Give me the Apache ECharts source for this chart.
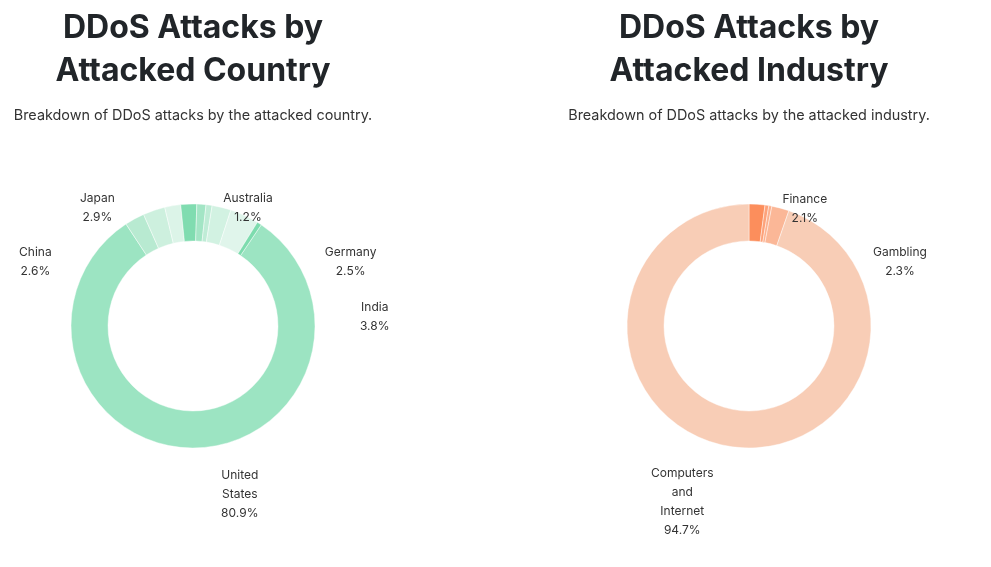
<!DOCTYPE html>
<html>
<head>
<meta charset="utf-8">
<script src="https://cdn.jsdelivr.net/npm/echarts@6/dist/echarts.min.js"></script>
<style>
  html, body { margin: 0; padding: 0; background: #ffffff; }
  #chart { width: 991px; height: 567px; }
</style>
</head>
<body>
<div id="chart"></div>
<script>
// ---- data ----
const countryTitle = 'DDoS Attacks by\nAttacked Country';
const countrySubtitle = 'Breakdown of DDoS attacks by the attacked country.';
const countryNames = ['United States', 'China', 'Japan', 'Other 1', 'Other 2', 'Australia', 'Other 3', 'Germany', 'India', 'Other 4'];
const countryValues = [80.9, 2.6, 2.9, 2.1, 2.1, 1.2, 0.8, 2.5, 3.8, 0.6];
const countryLabelled = ['United States', 'China', 'Japan', 'Australia', 'Germany', 'India'];

const industryTitle = 'DDoS Attacks by\nAttacked Industry';
const industrySubtitle = 'Breakdown of DDoS attacks by the attacked industry.';
const industryNames = ['Finance', 'Other 1', 'Other 2', 'Gambling', 'Computers and Internet'];
const industryValues = [2.1, 0.5, 0.4, 2.3, 94.7];
const industryLabelled = ['Finance', 'Gambling', 'Computers and Internet'];

// ---- styles ----
const countryColors = ['#9ce4c2', '#b8ead1', '#cdf0de', '#dcf4e8', '#80dcb0', '#a3e5c5', '#bfecd6', '#d2f2e2', '#e0f5eb', '#7ddcae'];
const industryColors = ['#fc8e5c', '#fda27a', '#fcb08e', '#fbb797', '#f8cdb6'];
// label placement: [angle clockwise from top (deg), distance from centre (px)]
const countryLabelPlace = {
  'United States': [164.5, 175], 'China': [-68, 170], 'Japan': [-39, 152],
  'Australia': [25, 130], 'Germany': [68, 170], 'India': [87, 182]
};
const industryLabelPlace = {
  'Finance': [25.4, 130], 'Gambling': [67, 164], 'Computers and Internet': [200.8, 188]
};
const FONT = 'Inter, "Noto Sans", sans-serif';

function buildData(names, values, colors, labelled) {
  return names.map((n, i) => ({
    name: n,
    value: values[i],
    itemStyle: { color: colors[i] },
    label: { show: labelled.indexOf(n) >= 0 }
  }));
}

function makePie(center, startAngle, data, place) {
  return {
    type: 'pie',
    center: center,
    radius: [85, 122],
    startAngle: startAngle,
    clockwise: true,
    avoidLabelOverlap: false,
    silent: true,
    emphasis: { disabled: true },
    itemStyle: { borderColor: 'rgba(255,255,255,0.55)', borderWidth: 0.8 },
    label: {
      position: 'outside',
      fontFamily: FONT,
      fontSize: 12,
      color: '#333333',
      lineHeight: 19,
      align: 'center',
      formatter: p => p.name.split(' ').join('\n') + '\n' + p.value.toFixed(1) + '%'
    },
    labelLine: { show: false },
    labelLayout: function (params) {
      const nm = data[params.dataIndex].name;
      const pl = place[nm];
      if (!pl) return {};
      const a = pl[0] * Math.PI / 180;
      return {
        x: center[0] + pl[1] * Math.sin(a),
        y: center[1] - pl[1] * Math.cos(a),
        align: 'center',
        verticalAlign: 'middle'
      };
    },
    data: data
  };
}

const cData = buildData(countryNames, countryValues, countryColors, countryLabelled);
const iData = buildData(industryNames, industryValues, industryColors, industryLabelled);

const titleStyle = { fontFamily: FONT, fontSize: 32, fontWeight: 700, color: '#212529', lineHeight: 43 };
const subStyle = { fontFamily: FONT, fontSize: 14.4, fontWeight: 400, color: '#333333' };

const chart = echarts.init(document.getElementById('chart'), null, { renderer: 'canvas' });
chart.setOption({
  animation: false,
  title: [
    { text: countryTitle, left: 193, top: 7, padding: 0, textAlign: 'center', textStyle: titleStyle },
    { text: countrySubtitle, left: 193, top: 109, padding: 0, textAlign: 'center', textStyle: subStyle },
    { text: industryTitle, left: 749, top: 7, padding: 0, textAlign: 'center', textStyle: titleStyle },
    { text: industrySubtitle, left: 749, top: 109, padding: 0, textAlign: 'center', textStyle: subStyle }
  ],
  series: [
    makePie([193, 326], 56, cData, countryLabelPlace),
    makePie([749, 326], 90, iData, industryLabelPlace)
  ]
});
</script>
</body>
</html>
